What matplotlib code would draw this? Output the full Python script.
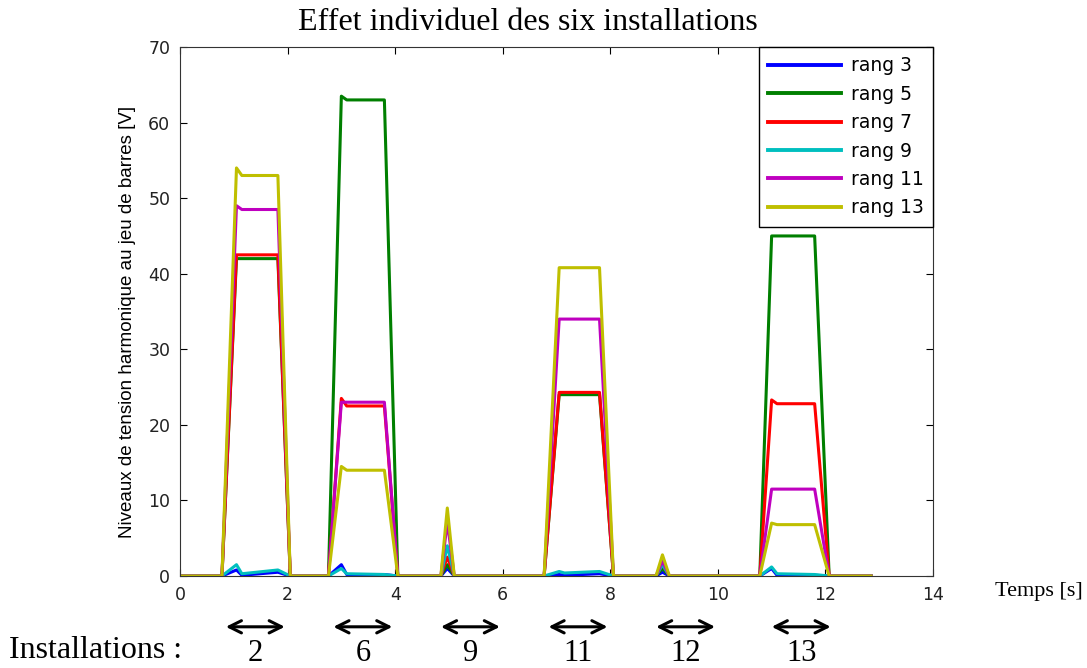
import numpy as np
import matplotlib
matplotlib.use("Agg")
import matplotlib.pyplot as plt

# time breakpoints [s]
t = [0, 0.78, 1.05, 1.15, 1.82, 2.05,
     2.76, 3.0, 3.1, 3.8, 4.05,
     4.85, 4.97, 5.1,
     6.77, 7.05, 7.15, 7.8, 8.06,
     8.85, 8.97, 9.1,
     10.78, 11.0, 11.1, 11.8, 12.07, 12.85]

rang3 = [0, 0, 0.8, 0.1, 0.5, 0,
         0, 1.5, 0.2, 0.2, 0,
         0, 1.0, 0,
         0, 0.2, 0.1, 0.3, 0,
         0, 0.5, 0,
         0, 1.0, 0.1, 0.1, 0, 0]
rang5 = [0, 0, 42, 42, 42, 0,
         0, 63.5, 63, 63, 0,
         0, 1.5, 0,
         0, 24, 24, 24, 0,
         0, 1.0, 0,
         0, 45, 45, 45, 0, 0]
rang7 = [0, 0, 42.5, 42.5, 42.5, 0,
         0, 23.5, 22.5, 22.5, 0,
         0, 2.5, 0,
         0, 24.3, 24.3, 24.3, 0,
         0, 1.5, 0,
         0, 23.3, 22.8, 22.8, 0, 0]
rang9 = [0, 0, 1.5, 0.3, 0.8, 0,
         0, 1.0, 0.3, 0.2, 0,
         0, 4.0, 0,
         0, 0.6, 0.4, 0.6, 0,
         0, 1.5, 0,
         0, 1.2, 0.3, 0.2, 0, 0]
rang11 = [0, 0, 49, 48.5, 48.5, 0,
          0, 23, 23, 23, 0,
          0, 7.2, 0,
          0, 34, 34, 34, 0,
          0, 2.0, 0,
          0, 11.5, 11.5, 11.5, 0, 0]
rang13 = [0, 0, 54, 53, 53, 0,
          0, 14.5, 14, 14, 0,
          0, 9, 0,
          0, 40.8, 40.8, 40.8, 0,
          0, 2.8, 0,
          0, 7, 6.8, 6.8, 0, 0]

labels = ["rang 3", "rang 5", "rang 7", "rang 9", "rang 11", "rang 13"]
colors = ["#0000ff", "#007f00", "#ff0000", "#00bfbf", "#bf00bf", "#bfbf00"]

# installations: arrow start/end [s] and their numbers
inst_names = ["2", "6", "9", "11", "12", "13"]
inst_start = [0.8, 2.8, 4.8, 6.8, 8.8, 10.95]
inst_end = [2.0, 4.0, 6.0, 8.0, 10.0, 12.15]

fig = plt.figure(figsize=(10.87, 6.68), dpi=100)
ax = fig.add_axes([0.1656, 0.1377, 0.6927, 0.7919])

series = [rang3, rang5, rang7, rang9, rang11, rang13]
for vals, lab, col in zip(series, labels, colors):
    ax.plot(t, vals, color=col, linewidth=2.2, label=lab)

ax.set_xlim(0, 14)
ax.set_ylim(0, 70)
ax.set_xticks(np.arange(0, 15, 2))
ax.set_yticks(np.arange(0, 71, 10))
ax.tick_params(direction="in", top=True, right=True, labelsize=12.5,
               length=5, pad=7, labelcolor="#222222")
for sp in ax.spines.values():
    sp.set_color("#333333")

fig.text(0.486, 0.966, "Effet individuel des six installations",
         family="Liberation Serif", fontsize=23, ha="center", va="center")
ax.set_ylabel("Niveaux de tension harmonique au jeu de barres [V]",
              family="Liberation Sans", fontsize=13.5)
ax.yaxis.set_label_coords(-0.058, 0.48)

leg = ax.legend(loc="upper right", fontsize=13.5, handlelength=3.9,
                handletextpad=0.5, fancybox=False, framealpha=1,
                edgecolor="black", borderaxespad=0, labelspacing=0.5,
                borderpad=0.5)
leg.get_frame().set_linewidth(1)
for h in leg.get_lines():
    h.set_linewidth(2.8)

# x axis title to the right of the axes
ax.text(1.082, -0.03, "Temps [s]", transform=ax.transAxes,
        family="Liberation Serif", fontsize=16, va="center", ha="left")

# installations row
trans = ax.get_xaxis_transform()
for name, a, b in zip(inst_names, inst_start, inst_end):
    ax.annotate("", xy=(a, -0.096), xytext=(b, -0.096), xycoords=trans,
                textcoords=trans,
                arrowprops=dict(arrowstyle="<->", color="black", lw=2.2,
                                mutation_scale=22), annotation_clip=False)
    ax.text((a + b) / 2, -0.146, name, transform=trans, ha="center",
            va="center", family="Liberation Serif", fontsize=22)

fig.text(0.008, 0.026, "Installations :", family="Liberation Serif",
         fontsize=23, ha="left", va="center")

fig.savefig("out.png", dpi=100)
